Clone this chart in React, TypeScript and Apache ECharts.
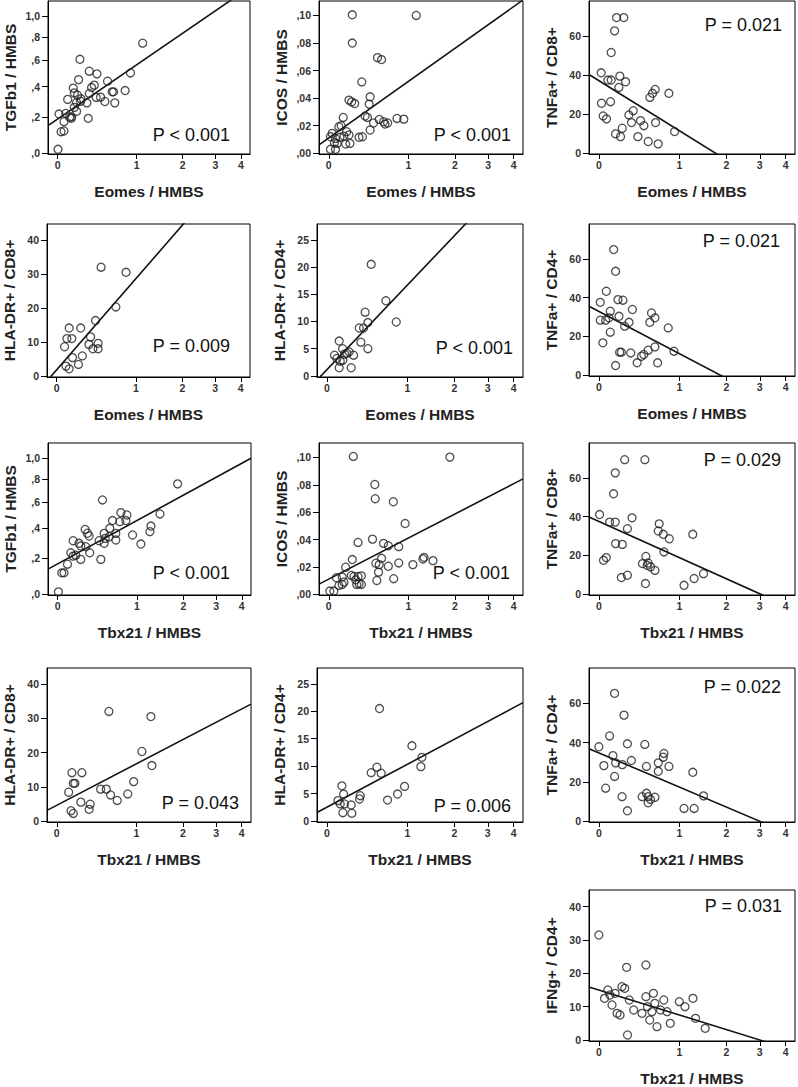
import { useEffect, useRef } from "react";
import * as echarts from "echarts";

const FONT = "'Liberation Sans', Arial, Helvetica, sans-serif";

// ---------- tick labels ----------
const xTicks = [0, 1, 2, 3, 4];
const tgfbTicks = [0, 0.2, 0.4, 0.6, 0.8, 1.0];
const icosTicks = [0, 0.02, 0.04, 0.06, 0.08, 0.1];
const tnfTicks = [0, 20, 40, 60];
const hla8Ticks = [0, 10, 20, 30, 40];
const hla4Ticks = [0, 5, 10, 15, 20, 25];
const ifngTicks = [0, 10, 20, 30, 40];

// ---------- data: [x, y] ----------
const tgfbEomes = [[1.11,0.745],[0.896,0.501],[0.216,0.608],[0.32,0.514],[0.412,0.494],[0.202,0.451],[0.55,0.439],[0.379,0.411],[0.347,0.394],[0.147,0.39],[0.614,0.364],[0.634,0.364],[0.809,0.373],[0.32,0.353],[0.157,0.357],[0.092,0.313],[0.191,0.341],[0.227,0.317],[0.181,0.293],[0.223,0.301],[0.293,0.29],[0.403,0.326],[0.458,0.328],[0.514,0.299],[0.652,0.29],[0.181,0.236],[0.308,0.193],[0.012,0.219],[0.073,0.223],[0.111,0.199],[0.131,0.203],[0.057,0.173],[0.03,0.115],[0.057,0.119],[0.003,0.02],[0.157,0.261],[0.127,0.193]];
const icosEomes = [[0.227,0.1005],[1.14,0.1],[0.227,0.08],[0.528,0.0694],[0.583,0.068],[0.332,0.0518],[0.433,0.041],[0.192,0.0386],[0.22,0.0373],[0.253,0.0361],[0.421,0.0357],[0.372,0.027],[0.4,0.026],[0.476,0.022],[0.551,0.0246],[0.611,0.0229],[0.63,0.0212],[0.669,0.022],[0.811,0.0253],[0.921,0.0248],[0.433,0.0169],[0.301,0.0116],[0.34,0.012],[0.134,0.026],[0.114,0.02],[0.092,0.0193],[0.168,0.0157],[0.192,0.0133],[0.03,0.0145],[0.015,0.012],[0.06,0.0108],[0.102,0.0116],[0.141,0.0125],[0.051,0.0077],[0.076,0.0072],[0.158,0.0067],[0.202,0.0072],[0.015,0.0029],[0.06,0.0029]];
const tnf8Eomes = [[0.165,69.5],[0.24,69.5],[0.145,62.7],[0.112,51.6],[0.02,41.2],[0.081,37.5],[0.112,37.5],[0.198,39.5],[0.259,36.6],[0.188,33.7],[0.552,28.6],[0.588,30.7],[0.625,32.7],[0.828,30.7],[0.023,25.6],[0.106,26.4],[0.295,19.6],[0.345,21.8],[0.325,15.7],[0.432,16.7],[0.474,14.1],[0.63,15.7],[0.038,19.1],[0.068,17.6],[0.155,9.9],[0.205,8.5],[0.223,12.8],[0.4,8.5],[0.53,6.0],[0.667,4.8],[0.92,11.1]];
const hla8Eomes = [[0.474,32.0],[0.833,30.5],[0.677,20.3],[0.404,16.3],[0.115,14.1],[0.233,14.1],[0.093,11.0],[0.141,11.0],[0.071,8.6],[0.344,11.5],[0.325,9.3],[0.436,9.6],[0.436,8.0],[0.372,8.0],[0.251,5.9],[0.148,5.4],[0.209,3.4],[0.084,2.9],[0.115,2.1]];
const hla4Eomes = [[0.465,20.5],[0.663,13.8],[0.391,11.7],[0.818,9.9],[0.424,9.8],[0.322,8.8],[0.372,8.8],[0.34,6.2],[0.424,5.0],[0.112,6.4],[0.145,5.0],[0.188,4.15],[0.212,4.4],[0.259,3.8],[0.068,3.8],[0.09,3.2],[0.122,2.7],[0.148,2.9],[0.112,1.5],[0.233,1.5],[0.165,4.0]];
const tnf4Eomes = [[0.136,64.8],[0.155,53.6],[0.066,43.3],[0.012,37.6],[0.179,39.0],[0.231,38.7],[0.103,33.0],[0.335,33.9],[0.574,32.1],[0.621,29.6],[0.551,27.3],[0.818,24.4],[0.012,28.4],[0.06,28.4],[0.091,29.6],[0.189,30.4],[0.297,27.3],[0.249,25.3],[0.103,22.2],[0.035,16.7],[0.196,11.9],[0.214,11.9],[0.316,11.5],[0.391,6.4],[0.443,9.8],[0.473,10.7],[0.529,12.9],[0.621,14.6],[0.659,6.4],[0.91,12.4],[0.155,5.0]];
const tgfbTbx = [[1.853,0.754],[1.445,0.505],[0.479,0.616],[0.737,0.515],[0.831,0.497],[0.815,0.455],[0.721,0.447],[0.614,0.455],[0.577,0.399],[0.501,0.363],[0.514,0.329],[0.568,0.34],[0.662,0.363],[0.662,0.318],[0.501,0.296],[1.259,0.415],[1.239,0.375],[0.924,0.352],[1.069,0.291],[0.458,0.194],[0.271,0.391],[0.297,0.364],[0.316,0.345],[0.144,0.313],[0.205,0.296],[0.223,0.278],[0.278,0.274],[0.323,0.235],[0.121,0.235],[0.144,0.214],[0.171,0.22],[0.223,0.194],[0.089,0.165],[0.036,0.115],[0.057,0.115],[0.006,0.012],[0.436,0.313]];
const icosTbx = [[0.238,0.1007],[1.868,0.1002],[0.493,0.0802],[0.498,0.0698],[0.754,0.0676],[0.943,0.0517],[0.463,0.0403],[0.29,0.0379],[0.611,0.0372],[0.679,0.0355],[0.838,0.0348],[0.227,0.0254],[0.158,0.0198],[0.583,0.0263],[0.507,0.0227],[0.551,0.0217],[0.679,0.0205],[0.838,0.0229],[1.079,0.0217],[1.269,0.0258],[1.29,0.027],[1.477,0.0246],[0.542,0.0162],[0.519,0.0101],[0.759,0.0114],[0.069,0.0121],[0.124,0.0126],[0.217,0.0138],[0.245,0.013],[0.29,0.013],[0.328,0.0135],[0.264,0.0106],[0.301,0.0077],[0.328,0.0072],[0.275,0.0072],[0.092,0.0065],[0.124,0.0072],[0.141,0.0089],[0.009,0.0024],[0.045,0.0024]];
const tnf8Tbx = [[0.249,69.4],[0.486,69.4],[0.152,62.6],[0.135,51.8],[0.006,41.1],[0.097,37.2],[0.152,37.2],[0.331,39.4],[0.279,33.8],[0.682,36.3],[0.668,32.6],[0.742,30.9],[0.835,28.6],[1.246,30.9],[0.155,26.1],[0.224,25.7],[0.752,21.8],[0.499,19.5],[0.066,18.9],[0.041,17.5],[0.456,15.8],[0.529,16.1],[0.516,14.9],[0.561,14.1],[0.621,12.3],[0.279,9.8],[0.214,8.6],[0.494,5.5],[1.083,4.6],[1.272,8.1],[1.464,10.6]];
const hla8Tbx = [[0.574,32.0],[1.268,30.5],[1.098,20.3],[1.288,16.2],[0.953,11.5],[0.141,14.1],[0.244,14.1],[0.155,11.0],[0.171,11.0],[0.109,8.4],[0.465,9.3],[0.539,9.3],[0.597,7.6],[0.692,6.0],[0.855,7.9],[0.233,5.5],[0.337,4.9],[0.325,3.4],[0.132,3.0],[0.155,2.2]];
const hla4Tbx = [[0.574,20.5],[1.081,13.7],[1.268,11.6],[1.248,9.9],[0.539,9.8],[0.465,8.8],[0.597,8.7],[0.953,6.3],[0.839,4.9],[0.687,3.8],[0.333,4.6],[0.325,4.0],[0.138,6.4],[0.155,4.9],[0.1,3.7],[0.122,3.1],[0.165,3.1],[0.233,2.9],[0.148,1.5],[0.24,1.4]];
const tnf4Tbx = [[0.145,65.1],[0.242,54.0],[0.097,43.4],[0.0,37.9],[0.279,39.4],[0.486,39.1],[0.129,33.4],[0.155,29.7],[0.044,28.3],[0.224,28.8],[0.323,30.9],[0.507,27.9],[0.668,29.7],[0.752,34.5],[0.742,32.6],[0.829,27.9],[0.668,25.4],[1.246,24.9],[0.145,22.8],[0.06,16.8],[0.221,12.5],[0.452,12.5],[0.507,14.2],[0.529,12.5],[0.561,11.1],[0.621,12.2],[0.529,9.4],[0.279,5.3],[1.083,6.5],[1.272,6.5],[1.464,12.9]];
const ifngTbx = [[0.0,31.5],[0.05,12.5],[0.08,15.0],[0.1,13.5],[0.12,10.5],[0.15,14.0],[0.17,8.0],[0.2,7.5],[0.22,16.0],[0.25,15.5],[0.27,21.8],[0.3,12.0],[0.35,9.0],[0.28,1.5],[0.45,8.0],[0.5,22.5],[0.5,13.0],[0.52,10.0],[0.55,6.0],[0.58,8.5],[0.6,14.0],[0.62,11.0],[0.65,4.0],[0.7,9.0],[0.75,12.0],[0.8,8.5],[0.85,5.0],[1.0,11.5],[1.1,10.0],[1.25,12.5],[1.3,6.5],[1.5,3.5]];

// ---------- regression fits [intercept, slope] in ln(1+x) space ----------
const fitTgfbEomes = [0.173, 0.395];
const fitIcosEomes = [0.0112, 0.0592];
const fitTnf8Eomes = [37.2, -37.0];
const fitHla8Eomes = [1.84, 38.7];
const fitHla4Eomes = [1.14, 22.4];
const fitTnf4Eomes = [32.9, -31.4];
const fitTgfbTbx = [0.155, 0.318];
const fitIcosTbx = [0.0111, 0.0433];
const fitTnf8Tbx = [37.5, -26.9];
const fitHla8Tbx = [4.58, 17.5];
const fitHla4Tbx = [2.49, 11.3];
const fitTnf4Tbx = [34.8, -25.1];
const fitIfngTbx = [15.0, -10.8];

const pTexts = ["P < 0.001", "P < 0.001", "P = 0.021", "P = 0.009", "P < 0.001", "P = 0.021", "P < 0.001", "P < 0.001", "P = 0.029", "P = 0.043", "P = 0.006", "P = 0.022", "P = 0.031"];

const T = (v: number) => Math.log(1 + v);
const X_MIN = -0.085;
const X_MAX = 1.69;

const fmtTgfb = (v: number) => {
  const r = Math.round((Math.exp(v) - 1) * 10);
  return r >= 10 ? "1,0" : "," + r;
};
const fmtIcos = (v: number) => {
  const r = Math.round(v * 100);
  return "," + (r < 10 ? "0" + r : String(r));
};
const fmtInt = (v: number) => String(Math.round(v));

type YKind = { ticks: number[]; log: boolean; min: number; max: number; fmt: (v: number) => string };
const Y_TGFB: YKind = { ticks: tgfbTicks, log: true, min: -0.004, max: 0.77, fmt: fmtTgfb };
const Y_ICOS: YKind = { ticks: icosTicks, log: false, min: -0.0005, max: 0.1105, fmt: fmtIcos };
const Y_TNF: YKind = { ticks: tnfTicks, log: false, min: -0.4, max: 78, fmt: fmtInt };
const Y_HLA8: YKind = { ticks: hla8Ticks, log: false, min: -0.3, max: 44.7, fmt: fmtInt };
const Y_HLA4: YKind = { ticks: hla4Ticks, log: false, min: -0.2, max: 27.9, fmt: fmtInt };
const Y_IFNG: YKind = { ticks: ifngTicks, log: false, min: -0.3, max: 45, fmt: fmtInt };

const panels = [
  { data: tgfbEomes, fit: fitTgfbEomes, y: Y_TGFB, yName: "TGFb1 / HMBS", xName: "Eomes / HMBS", box: [48, 1, 202, 153], p: [230, 135] },
  { data: icosEomes, fit: fitIcosEomes, y: Y_ICOS, yName: "ICOS / HMBS", xName: "Eomes / HMBS", box: [319, 1, 204, 153], p: [511, 135] },
  { data: tnf8Eomes, fit: fitTnf8Eomes, y: Y_TNF, yName: "TNFa+ / CD8+", xName: "Eomes / HMBS", box: [589, 1, 206, 153], p: [782, 25] },
  { data: hla8Eomes, fit: fitHla8Eomes, y: Y_HLA8, yName: "HLA-DR+ / CD8+", xName: "Eomes / HMBS", box: [45, 224, 205, 153], p: [230, 346] },
  { data: hla4Eomes, fit: fitHla4Eomes, y: Y_HLA4, yName: "HLA-DR+ / CD4+", xName: "Eomes / HMBS", box: [317, 224, 206, 153], p: [513, 348] },
  { data: tnf4Eomes, fit: fitTnf4Eomes, y: Y_TNF, yName: "TNFa+ / CD4+", xName: "Eomes / HMBS", box: [589, 224, 206, 152], p: [780, 241] },
  { data: tgfbTbx, fit: fitTgfbTbx, y: Y_TGFB, yName: "TGFb1 / HMBS", xName: "Tbx21 / HMBS", box: [48, 443, 203, 152], p: [230, 573] },
  { data: icosTbx, fit: fitIcosTbx, y: Y_ICOS, yName: "ICOS / HMBS", xName: "Tbx21 / HMBS", box: [319, 443, 204, 152], p: [510, 573] },
  { data: tnf8Tbx, fit: fitTnf8Tbx, y: Y_TNF, yName: "TNFa+ / CD8+", xName: "Tbx21 / HMBS", box: [589, 443, 206, 152], p: [781, 460] },
  { data: hla8Tbx, fit: fitHla8Tbx, y: Y_HLA8, yName: "HLA-DR+ / CD8+", xName: "Tbx21 / HMBS", box: [45, 668, 206, 154], p: [239, 803] },
  { data: hla4Tbx, fit: fitHla4Tbx, y: Y_HLA4, yName: "HLA-DR+ / CD4+", xName: "Tbx21 / HMBS", box: [317, 668, 206, 154], p: [511, 806] },
  { data: tnf4Tbx, fit: fitTnf4Tbx, y: Y_TNF, yName: "TNFa+ / CD4+", xName: "Tbx21 / HMBS", box: [589, 668, 206, 154], p: [781, 687] },
  { data: ifngTbx, fit: fitIfngTbx, y: Y_IFNG, yName: "IFNg+ / CD4+", xName: "Tbx21 / HMBS", box: [589, 890, 206, 153], p: [782, 906] },
];

function buildOption() {
  const grid: any[] = [];
  const xAxis: any[] = [];
  const yAxis: any[] = [];
  const series: any[] = [];
  const graphic: any[] = [];
  const xTickVals = xTicks.map(T);

  panels.forEach((pn, i) => {
    const [left, top, width, height] = pn.box;
    grid.push({ left, top, width, height, show: true, borderColor: "#000", borderWidth: 1, backgroundColor: "transparent" });
    xAxis.push({
      gridIndex: i,
      type: "value",
      min: X_MIN,
      max: X_MAX,
      axisLine: { show: true, onZero: false, lineStyle: { color: "#000", width: 1 } },
      axisTick: { show: true, customValues: xTickVals, length: 5, lineStyle: { color: "#000" } },
      axisLabel: {
        customValues: xTickVals,
        formatter: (v: number) => String(Math.round(Math.exp(v) - 1)),
        margin: 5,
        fontSize: 10.5,
        fontWeight: "bold",
        color: "#333",
        fontFamily: FONT,
      },
      splitLine: { show: false },
      name: pn.xName,
      nameLocation: "middle",
      nameGap: 29,
      nameTextStyle: { fontSize: 15.5, fontWeight: "bold", color: "#222", fontFamily: FONT },
    });
    const yVals = pn.y.log ? pn.y.ticks.map(T) : pn.y.ticks;
    yAxis.push({
      gridIndex: i,
      type: "value",
      min: pn.y.min,
      max: pn.y.max,
      axisLine: { show: true, onZero: false, lineStyle: { color: "#000", width: 1 } },
      axisTick: { show: true, customValues: yVals, length: 6, lineStyle: { color: "#000" } },
      axisLabel: {
        customValues: yVals,
        formatter: pn.y.fmt,
        margin: 8,
        fontSize: 10.5,
        fontWeight: "bold",
        color: "#333",
        fontFamily: FONT,
      },
      splitLine: { show: false },
      name: pn.yName,
      nameLocation: "middle",
      nameGap: 30,
      nameTextStyle: { fontSize: 15.5, fontWeight: "bold", color: "#222", fontFamily: FONT },
    });
    const tr = (v: number) => (pn.y.log ? T(v) : v);
    series.push({
      type: "scatter",
      xAxisIndex: i,
      yAxisIndex: i,
      symbol: "circle",
      symbolSize: 8,
      itemStyle: { color: "rgba(0,0,0,0)", borderColor: "#222", borderWidth: 1.3 },
      data: pn.data.map(([x, y]) => [T(x), tr(y)]),
      z: 3,
    });
    const [a, b] = pn.fit;
    series.push({
      type: "line",
      xAxisIndex: i,
      yAxisIndex: i,
      symbol: "none",
      clip: true,
      lineStyle: { color: "#111", width: 1.6 },
      data: [
        [X_MIN, a + b * X_MIN],
        [X_MAX, a + b * X_MAX],
      ],
      z: 2,
    });
    graphic.push({
      type: "text",
      x: pn.p[0],
      y: pn.p[1],
      style: {
        text: pTexts[i],
        fontSize: 18,
        fontFamily: FONT,
        fill: "#111",
        align: "right",
        verticalAlign: "middle",
        textAlign: "right",
        textVerticalAlign: "middle",
      },
    });
  });

  return { animation: false, backgroundColor: "#fff", grid, xAxis, yAxis, series, graphic };
}

export default function App() {
  const ref = useRef<HTMLDivElement>(null);
  useEffect(() => {
    if (!ref.current) return;
    const chart = echarts.init(ref.current, null, { renderer: "svg" });
    chart.setOption(buildOption() as any);
    return () => chart.dispose();
  }, []);
  return (
    <div
      ref={ref}
      style={{ position: "absolute", left: 0, top: 0, width: 798, height: 1087, background: "#fff" }}
    />
  );
}
